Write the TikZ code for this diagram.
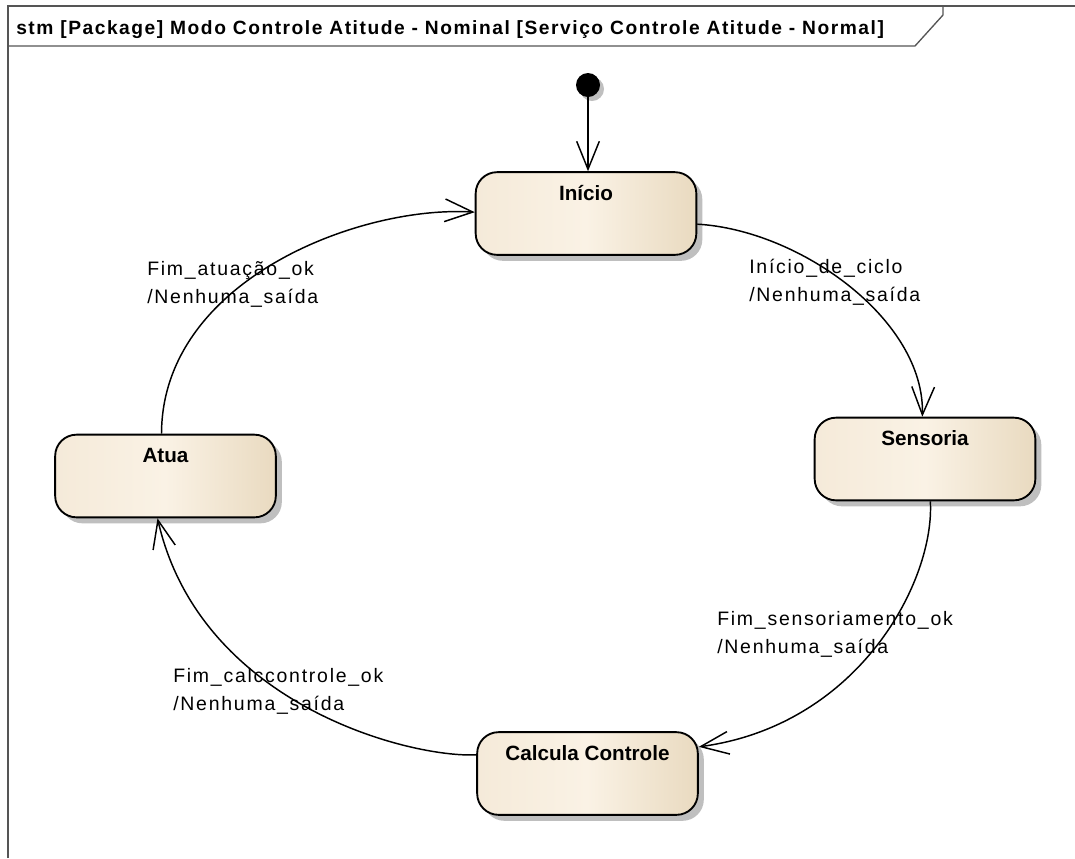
\documentclass[tikz,border=0pt]{standalone}
\usepackage{fontspec}
\setmainfont{Liberation Sans}
\newfontfamily\guardfont[LetterSpace=9]{Liberation Sans}
\newfontfamily\titlefont[LetterSpace=8]{Liberation Sans}
\usetikzlibrary{arrows.meta,shadows}
\definecolor{stateleft}{RGB}{245,234,217}
\definecolor{statemid}{RGB}{250,242,229}
\definecolor{stateright}{RGB}{233,218,192}
\definecolor{framegray}{RGB}{85,85,85}
\tikzset{
  state/.style={draw, line width=1.4pt, rounded corners=16pt,
    minimum width=165.5pt, minimum height=62pt, inner ysep=6pt,
    text height=15pt, text depth=35pt,
    left color=stateleft, right color=stateright, middle color=statemid,
    font=\bfseries\fontsize{15.5pt}{18pt}\selectfont,
    drop shadow={shadow xshift=4.5pt, shadow yshift=-4.5pt, fill=black!25, opacity=1}},
  trans/.style={line width=1.1pt, -{Straight Barb[length=21pt,width=17pt]}},
  % anchored on the baseline of the second line
  guard/.style={anchor=base west, align=left, inner sep=0pt,
    font=\guardfont\fontsize{14.6pt}{20.3pt}\selectfont},
}
\begin{document}
\begin{tikzpicture}[x=0.75pt,y=-0.75pt]
\useasboundingbox (0,0) rectangle (1075,858);
% frame with its name tab
\draw [framegray, line width=1.5pt] (8,858) -- (8,6) -- (1075,6);
\draw [framegray, line width=1pt] (8,46) -- (915,46) -- (943,15) -- (943,6);
\node [anchor=base west, inner sep=0pt, font=\titlefont\bfseries\fontsize{14.4pt}{16pt}\selectfont] (title) at (16,34)
  {stm [Package] Modo Controle Atitude - Nominal [Serviço Controle Atitude - Normal]};
% states
\node [circle, fill=black, minimum size=18pt, inner sep=0pt,
  drop shadow={shadow xshift=3pt, shadow yshift=-3pt, fill=black!25, opacity=1}] (inicial) at (588,85) {};
\node [state] (inicio) at (586,213.5) {Início};
\node [state] (sensoria) at (925,459) {Sensoria};
\node [state] (calcula) at (587.5,773.5) {Calcula Controle};
\node [state] (atua) at (165.5,476) {Atua};
% transitions
\draw [trans] (inicial) -- (inicial |- inicio.north);
\draw [trans] ([yshift=-8pt]inicio.east) .. controls (800,230) and (925,320) .. ([xshift=-2pt]sensoria.north);
\draw [trans] ([xshift=4pt]sensoria.south) .. controls (935,580) and (860,725) .. ([yshift=20pt]calcula.east);
\draw [trans] ([yshift=14pt]calcula.west) .. controls (410,758) and (200,705) .. ([xshift=-6pt]atua.south);
\draw [trans] ([xshift=-3pt]atua.north) .. controls (162,280) and (360,205) .. ([yshift=1pt]inicio.west);
% guards and effects
\node [guard] (fimatua) at (147,303) {Fim\_atuação\_ok\\/Nenhuma\_saída};
\node [guard] (ciclo) at (749,301) {Início\_de\_ciclo\\/Nenhuma\_saída};
\node [guard] (fimsens) at (717,653) {Fim\_sensoriamento\_ok\\/Nenhuma\_saída};
\node [guard] (fimcalc) at (173,710) {Fim\_calccontrole\_ok\\/Nenhuma\_saída};
\end{tikzpicture}
\end{document}
